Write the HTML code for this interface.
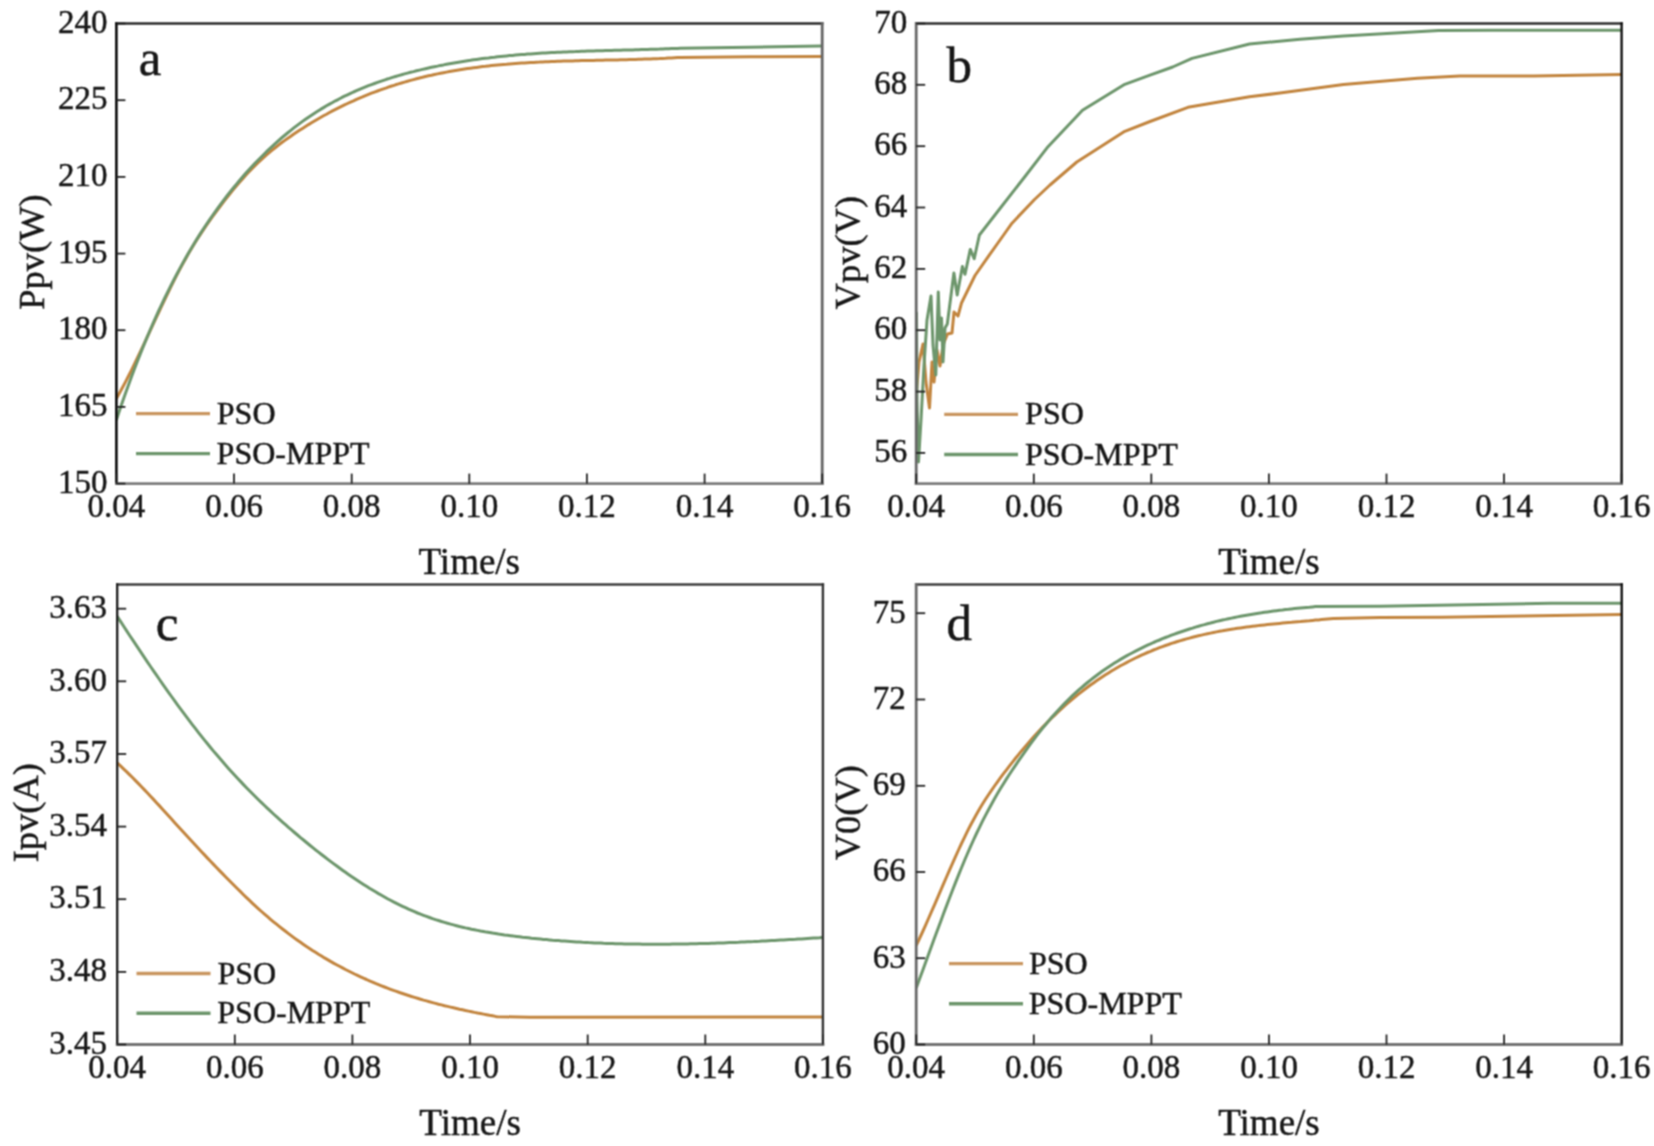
<!DOCTYPE html>
<html><head><meta charset="utf-8"><style>html,body{margin:0;padding:0;background:#fff;}svg{display:block}</style></head><body>
<svg width="1654" height="1146" viewBox="0 0 1654 1146" font-family="'Liberation Serif', serif" fill="#161616" stroke="#161616" stroke-width="0.45">
<defs><filter id="soft" x="0" y="0" width="1654" height="1146" filterUnits="userSpaceOnUse" color-interpolation-filters="sRGB"><feConvolveMatrix order="3" kernelMatrix="1 2 1 2 4 2 1 2 1" edgeMode="duplicate"/></filter></defs>
<g filter="url(#soft)">
<rect width="1654" height="1146" fill="#fff" stroke="none"/>
<clipPath id="cla"><rect x="116.4" y="23.5" width="705.8" height="460.1"/></clipPath>
<g clip-path="url(#cla)" fill="none" stroke-width="3.0" stroke-linejoin="round" stroke-linecap="round">
<path d="M116.5,398.3 L119.5,393.0 L122.5,387.5 L125.5,381.9 L128.5,376.0 L131.5,370.1 L134.5,364.0 L137.5,357.7 L140.5,351.4 L143.5,345.1 L146.5,338.6 L149.5,332.2 L152.5,325.7 L155.5,319.2 L158.5,312.8 L161.5,306.4 L164.5,300.0 L167.5,293.8 L170.5,287.6 L173.5,281.6 L176.5,275.6 L179.5,269.9 L182.5,264.3 L185.5,258.9 L188.5,253.6 L191.5,248.6 L194.5,243.6 L197.5,238.8 L200.5,234.1 L203.5,229.6 L206.5,225.2 L209.5,220.8 L212.5,216.6 L215.5,212.5 L218.5,208.5 L221.5,204.5 L224.5,200.6 L227.5,196.8 L230.5,193.0 L233.5,189.4 L236.5,185.8 L239.5,182.3 L242.5,178.9 L245.5,175.5 L248.5,172.3 L251.5,169.1 L254.5,166.1 L257.5,163.1 L260.5,160.3 L263.5,157.6 L266.5,154.9 L269.5,152.3 L272.5,149.9 L275.5,147.5 L278.5,145.1 L281.5,142.8 L284.5,140.6 L287.5,138.5 L290.5,136.4 L293.5,134.3 L296.5,132.3 L299.5,130.3 L302.5,128.4 L305.5,126.5 L308.5,124.6 L311.5,122.8 L314.5,121.0 L317.5,119.2 L320.5,117.5 L323.5,115.8 L326.5,114.2 L329.5,112.5 L332.5,110.9 L335.5,109.4 L338.5,107.9 L341.5,106.4 L344.5,104.9 L347.5,103.5 L350.5,102.1 L353.5,100.8 L356.5,99.4 L359.5,98.1 L362.5,96.9 L365.5,95.6 L368.5,94.4 L371.5,93.2 L374.5,92.1 L377.5,91.0 L380.5,89.9 L383.5,88.8 L386.5,87.8 L389.5,86.7 L392.5,85.8 L395.5,84.8 L398.5,83.9 L401.5,83.0 L404.5,82.1 L407.5,81.2 L410.5,80.4 L413.5,79.6 L416.5,78.8 L419.5,78.0 L422.5,77.3 L425.5,76.5 L428.5,75.8 L431.5,75.2 L434.5,74.5 L437.5,73.9 L440.5,73.3 L443.5,72.7 L446.5,72.1 L449.5,71.5 L452.5,71.0 L455.5,70.5 L458.5,70.0 L461.5,69.5 L464.5,69.0 L467.5,68.6 L470.5,68.2 L473.5,67.8 L476.5,67.4 L479.5,67.0 L482.5,66.6 L485.5,66.3 L488.5,65.9 L491.5,65.6 L494.5,65.3 L497.5,65.0 L500.5,64.7 L503.5,64.4 L506.5,64.2 L509.5,63.9 L512.5,63.7 L515.5,63.5 L518.5,63.3 L521.5,63.1 L524.5,62.9 L527.5,62.7 L530.5,62.5 L533.5,62.4 L536.5,62.2 L539.5,62.1 L542.5,61.9 L545.5,61.8 L548.5,61.7 L551.5,61.5 L554.5,61.4 L557.5,61.3 L560.5,61.2 L563.5,61.1 L566.5,61.0 L569.5,61.0 L572.5,60.9 L575.5,60.8 L578.5,60.7 L581.5,60.6 L584.5,60.6 L587.5,60.5 L590.5,60.4 L593.5,60.4 L596.5,60.3 L599.5,60.3 L602.5,60.2 L605.5,60.1 L608.5,60.1 L611.5,60.0 L614.5,59.9 L617.5,59.9 L620.5,59.8 L623.5,59.7 L626.5,59.7 L629.5,59.6 L632.5,59.5 L635.5,59.4 L638.5,59.3 L641.5,59.2 L644.5,59.1 L647.5,59.0 L650.5,58.9 L653.5,58.8 L656.5,58.7 L659.5,58.6 L662.5,58.4 L665.5,58.3 L668.5,58.1 L671.5,58.0 L674.5,57.8 L677.5,57.6 L680.0,57.5 L750.0,56.7 L821.0,56.5" stroke="#c2853f"/>
<path d="M116.5,419.5 L119.5,410.5 L122.5,401.8 L125.5,393.2 L128.5,384.9 L131.5,376.7 L134.5,368.8 L137.5,361.0 L140.5,353.4 L143.5,345.9 L146.5,338.6 L149.5,331.5 L152.5,324.6 L155.5,317.8 L158.5,311.2 L161.5,304.8 L164.5,298.4 L167.5,292.3 L170.5,286.3 L173.5,280.4 L176.5,274.7 L179.5,269.1 L182.5,263.6 L185.5,258.3 L188.5,253.0 L191.5,248.0 L194.5,243.0 L197.5,238.1 L200.5,233.4 L203.5,228.8 L206.5,224.2 L209.5,219.8 L212.5,215.5 L215.5,211.3 L218.5,207.1 L221.5,203.1 L224.5,199.1 L227.5,195.2 L230.5,191.4 L233.5,187.7 L236.5,184.1 L239.5,180.5 L242.5,177.1 L245.5,173.6 L248.5,170.3 L251.5,167.0 L254.5,163.8 L257.5,160.7 L260.5,157.7 L263.5,154.7 L266.5,151.7 L269.5,148.9 L272.5,146.1 L275.5,143.3 L278.5,140.6 L281.5,138.0 L284.5,135.5 L287.5,133.0 L290.5,130.6 L293.5,128.2 L296.5,125.9 L299.5,123.6 L302.5,121.4 L305.5,119.3 L308.5,117.2 L311.5,115.2 L314.5,113.2 L317.5,111.3 L320.5,109.4 L323.5,107.6 L326.5,105.8 L329.5,104.1 L332.5,102.5 L335.5,100.8 L338.5,99.3 L341.5,97.7 L344.5,96.2 L347.5,94.8 L350.5,93.4 L353.5,92.0 L356.5,90.7 L359.5,89.4 L362.5,88.1 L365.5,86.9 L368.5,85.7 L371.5,84.6 L374.5,83.5 L377.5,82.4 L380.5,81.3 L383.5,80.3 L386.5,79.3 L389.5,78.4 L392.5,77.4 L395.5,76.5 L398.5,75.6 L401.5,74.8 L404.5,73.9 L407.5,73.1 L410.5,72.3 L413.5,71.6 L416.5,70.8 L419.5,70.1 L422.5,69.4 L425.5,68.7 L428.5,68.0 L431.5,67.3 L434.5,66.7 L437.5,66.1 L440.5,65.4 L443.5,64.9 L446.5,64.3 L449.5,63.7 L452.5,63.2 L455.5,62.7 L458.5,62.2 L461.5,61.7 L464.5,61.2 L467.5,60.7 L470.5,60.3 L473.5,59.8 L476.5,59.4 L479.5,59.0 L482.5,58.6 L485.5,58.2 L488.5,57.9 L491.5,57.5 L494.5,57.2 L497.5,56.8 L500.5,56.5 L503.5,56.2 L506.5,55.9 L509.5,55.6 L512.5,55.4 L515.5,55.1 L518.5,54.8 L521.5,54.6 L524.5,54.4 L527.5,54.1 L530.5,53.9 L533.5,53.7 L536.5,53.5 L539.5,53.3 L542.5,53.1 L545.5,53.0 L548.5,52.8 L551.5,52.6 L554.5,52.5 L557.5,52.3 L560.5,52.2 L563.5,52.0 L566.5,51.9 L569.5,51.8 L572.5,51.7 L575.5,51.6 L578.5,51.4 L581.5,51.3 L584.5,51.2 L587.5,51.1 L590.5,51.0 L593.5,50.9 L596.5,50.8 L599.5,50.8 L602.5,50.7 L605.5,50.6 L608.5,50.5 L611.5,50.4 L614.5,50.3 L617.5,50.3 L620.5,50.2 L623.5,50.1 L626.5,50.0 L629.5,49.9 L632.5,49.9 L635.5,49.8 L638.5,49.7 L641.5,49.6 L644.5,49.5 L647.5,49.4 L650.5,49.3 L653.5,49.2 L656.5,49.2 L659.5,49.1 L662.5,48.9 L665.5,48.8 L668.5,48.7 L671.5,48.6 L674.5,48.5 L677.5,48.4 L680.0,48.3 L750.0,47.2 L821.0,46.1" stroke="#6d966c"/>
</g>
<line x1="116.4" y1="23.5" x2="822.2" y2="23.5" stroke="#2a2a2a" stroke-width="2.4" stroke-linecap="square"/>
<line x1="116.4" y1="23.5" x2="116.4" y2="483.6" stroke="#0a0a0a" stroke-width="2.6" stroke-linecap="square"/>
<line x1="822.2" y1="23.5" x2="822.2" y2="483.6" stroke="#646464" stroke-width="2.8" stroke-linecap="square"/>
<line x1="116.4" y1="483.6" x2="822.2" y2="483.6" stroke="#7c7c7c" stroke-width="2.8" stroke-linecap="square"/>
<line x1="116.4" y1="483.6" x2="125.4" y2="483.6" stroke="#222" stroke-width="1.8"/>
<text x="107.4" y="492.8" font-size="33" text-anchor="end">150</text>
<line x1="116.4" y1="406.9" x2="125.4" y2="406.9" stroke="#222" stroke-width="1.8"/>
<text x="107.4" y="416.1" font-size="33" text-anchor="end">165</text>
<line x1="116.4" y1="330.2" x2="125.4" y2="330.2" stroke="#222" stroke-width="1.8"/>
<text x="107.4" y="339.4" font-size="33" text-anchor="end">180</text>
<line x1="116.4" y1="253.6" x2="125.4" y2="253.6" stroke="#222" stroke-width="1.8"/>
<text x="107.4" y="262.8" font-size="33" text-anchor="end">195</text>
<line x1="116.4" y1="176.9" x2="125.4" y2="176.9" stroke="#222" stroke-width="1.8"/>
<text x="107.4" y="186.1" font-size="33" text-anchor="end">210</text>
<line x1="116.4" y1="100.2" x2="125.4" y2="100.2" stroke="#222" stroke-width="1.8"/>
<text x="107.4" y="109.4" font-size="33" text-anchor="end">225</text>
<line x1="116.4" y1="23.5" x2="125.4" y2="23.5" stroke="#222" stroke-width="1.8"/>
<text x="107.4" y="32.7" font-size="33" text-anchor="end">240</text>
<line x1="116.4" y1="483.6" x2="116.4" y2="473.6" stroke="#222" stroke-width="1.8"/>
<text x="116.4" y="516.9" font-size="33" text-anchor="middle">0.04</text>
<line x1="234.0" y1="483.6" x2="234.0" y2="473.6" stroke="#222" stroke-width="1.8"/>
<text x="234.0" y="516.9" font-size="33" text-anchor="middle">0.06</text>
<line x1="351.7" y1="483.6" x2="351.7" y2="473.6" stroke="#222" stroke-width="1.8"/>
<text x="351.7" y="516.9" font-size="33" text-anchor="middle">0.08</text>
<line x1="469.3" y1="483.6" x2="469.3" y2="473.6" stroke="#222" stroke-width="1.8"/>
<text x="469.3" y="516.9" font-size="33" text-anchor="middle">0.10</text>
<line x1="586.9" y1="483.6" x2="586.9" y2="473.6" stroke="#222" stroke-width="1.8"/>
<text x="586.9" y="516.9" font-size="33" text-anchor="middle">0.12</text>
<line x1="704.6" y1="483.6" x2="704.6" y2="473.6" stroke="#222" stroke-width="1.8"/>
<text x="704.6" y="516.9" font-size="33" text-anchor="middle">0.14</text>
<line x1="822.2" y1="483.6" x2="822.2" y2="473.6" stroke="#222" stroke-width="1.8"/>
<text x="822.2" y="516.9" font-size="33" text-anchor="middle">0.16</text>
<text x="469.3" y="573.6" font-size="37" text-anchor="middle">Time/s</text>
<text transform="translate(44.0,252.0) rotate(-90)" font-size="36.5" text-anchor="middle">Ppv(W)</text>
<text x="138.8" y="74.6" font-size="51">a</text>
<line x1="136.0" y1="413.6" x2="210.0" y2="413.6" stroke="#c99660" stroke-width="3.4"/>
<line x1="136.0" y1="453.6" x2="210.0" y2="453.6" stroke="#6d966c" stroke-width="3.4"/>
<text x="216.8" y="423.6" font-size="32">PSO</text>
<text x="216.6" y="463.6" font-size="32">PSO-MPPT</text>
<clipPath id="clb"><rect x="916.2" y="23.5" width="705.4" height="460.1"/></clipPath>
<g clip-path="url(#clb)" fill="none" stroke-width="3.0" stroke-linejoin="round" stroke-linecap="round">
<path d="M916.5,392.0 L919.0,362.0 L923.0,344.0 L926.0,382.0 L929.5,408.0 L932.0,362.0 L934.0,382.0 L937.0,350.0 L940.0,366.0 L943.0,345.0 L947.5,334.0 L952.0,333.0 L954.0,312.0 L958.0,316.0 L961.5,303.0 L975.0,275.5 L990.5,253.3 L1003.6,235.0 L1012.0,223.2 L1034.5,199.5 L1050.0,185.0 L1076.8,162.0 L1124.8,131.3 L1150.0,121.5 L1188.0,107.3 L1249.5,96.8 L1280.0,93.0 L1343.5,84.5 L1417.5,78.2 L1459.9,76.1 L1534.0,76.1 L1621.0,74.6" stroke="#c2853f"/>
<path d="M916.5,313.0 L917.0,400.0 L918.5,462.0 L921.0,420.0 L924.0,365.0 L927.0,320.0 L931.0,296.0 L933.0,345.0 L935.8,375.0 L938.3,292.0 L940.0,340.0 L941.5,318.0 L943.0,362.0 L945.0,328.0 L947.3,324.0 L953.9,273.0 L957.2,295.0 L962.4,266.5 L965.0,274.3 L970.3,249.4 L974.2,258.6 L979.4,235.0 L1000.0,208.5 L1025.0,176.5 L1048.0,146.7 L1082.5,110.2 L1124.8,84.3 L1150.0,75.2 L1172.7,67.0 L1192.0,58.4 L1249.5,44.0 L1300.0,39.2 L1343.5,35.9 L1438.7,30.6 L1491.6,30.2 L1621.0,30.2" stroke="#6d966c"/>
</g>
<line x1="916.2" y1="23.5" x2="1621.6" y2="23.5" stroke="#2e2e2e" stroke-width="2.4" stroke-linecap="square"/>
<line x1="916.2" y1="23.5" x2="916.2" y2="483.6" stroke="#686868" stroke-width="2.8" stroke-linecap="square"/>
<line x1="1621.6" y1="23.5" x2="1621.6" y2="483.6" stroke="#111111" stroke-width="2.4" stroke-linecap="square"/>
<line x1="916.2" y1="483.6" x2="1621.6" y2="483.6" stroke="#7c7c7c" stroke-width="2.8" stroke-linecap="square"/>
<line x1="916.2" y1="452.9" x2="925.2" y2="452.9" stroke="#222" stroke-width="1.8"/>
<text x="907.2" y="462.1" font-size="33" text-anchor="end">56</text>
<line x1="916.2" y1="391.6" x2="925.2" y2="391.6" stroke="#222" stroke-width="1.8"/>
<text x="907.2" y="400.8" font-size="33" text-anchor="end">58</text>
<line x1="916.2" y1="330.2" x2="925.2" y2="330.2" stroke="#222" stroke-width="1.8"/>
<text x="907.2" y="339.4" font-size="33" text-anchor="end">60</text>
<line x1="916.2" y1="268.9" x2="925.2" y2="268.9" stroke="#222" stroke-width="1.8"/>
<text x="907.2" y="278.1" font-size="33" text-anchor="end">62</text>
<line x1="916.2" y1="207.5" x2="925.2" y2="207.5" stroke="#222" stroke-width="1.8"/>
<text x="907.2" y="216.7" font-size="33" text-anchor="end">64</text>
<line x1="916.2" y1="146.2" x2="925.2" y2="146.2" stroke="#222" stroke-width="1.8"/>
<text x="907.2" y="155.4" font-size="33" text-anchor="end">66</text>
<line x1="916.2" y1="84.8" x2="925.2" y2="84.8" stroke="#222" stroke-width="1.8"/>
<text x="907.2" y="94.0" font-size="33" text-anchor="end">68</text>
<line x1="916.2" y1="23.5" x2="925.2" y2="23.5" stroke="#222" stroke-width="1.8"/>
<text x="907.2" y="32.7" font-size="33" text-anchor="end">70</text>
<line x1="916.2" y1="483.6" x2="916.2" y2="473.6" stroke="#222" stroke-width="1.8"/>
<text x="916.2" y="516.9" font-size="33" text-anchor="middle">0.04</text>
<line x1="1033.8" y1="483.6" x2="1033.8" y2="473.6" stroke="#222" stroke-width="1.8"/>
<text x="1033.8" y="516.9" font-size="33" text-anchor="middle">0.06</text>
<line x1="1151.3" y1="483.6" x2="1151.3" y2="473.6" stroke="#222" stroke-width="1.8"/>
<text x="1151.3" y="516.9" font-size="33" text-anchor="middle">0.08</text>
<line x1="1268.9" y1="483.6" x2="1268.9" y2="473.6" stroke="#222" stroke-width="1.8"/>
<text x="1268.9" y="516.9" font-size="33" text-anchor="middle">0.10</text>
<line x1="1386.5" y1="483.6" x2="1386.5" y2="473.6" stroke="#222" stroke-width="1.8"/>
<text x="1386.5" y="516.9" font-size="33" text-anchor="middle">0.12</text>
<line x1="1504.0" y1="483.6" x2="1504.0" y2="473.6" stroke="#222" stroke-width="1.8"/>
<text x="1504.0" y="516.9" font-size="33" text-anchor="middle">0.14</text>
<line x1="1621.6" y1="483.6" x2="1621.6" y2="473.6" stroke="#222" stroke-width="1.8"/>
<text x="1621.6" y="516.9" font-size="33" text-anchor="middle">0.16</text>
<text x="1268.9" y="573.6" font-size="37" text-anchor="middle">Time/s</text>
<text transform="translate(860.0,252.7) rotate(-90)" font-size="36.5" text-anchor="middle">Vpv(V)</text>
<text x="946.5" y="81.6" font-size="51">b</text>
<line x1="944.2" y1="414.4" x2="1018.0" y2="414.4" stroke="#c99660" stroke-width="3.4"/>
<line x1="944.2" y1="454.5" x2="1018.0" y2="454.5" stroke="#6d966c" stroke-width="3.4"/>
<text x="1025.1" y="424.4" font-size="32">PSO</text>
<text x="1024.9" y="464.5" font-size="32">PSO-MPPT</text>
<clipPath id="clc"><rect x="117.2" y="584.5" width="705.7" height="460.0"/></clipPath>
<g clip-path="url(#clc)" fill="none" stroke-width="3.0" stroke-linejoin="round" stroke-linecap="round">
<path d="M117.5,763.2 L120.5,765.9 L123.5,768.8 L126.5,771.6 L129.5,774.6 L132.5,777.5 L135.5,780.6 L138.5,783.6 L141.5,786.7 L144.5,789.9 L147.5,793.0 L150.5,796.2 L153.5,799.4 L156.5,802.7 L159.5,805.9 L162.5,809.2 L165.5,812.5 L168.5,815.8 L171.5,819.1 L174.5,822.4 L177.5,825.7 L180.5,829.0 L183.5,832.3 L186.5,835.6 L189.5,838.8 L192.5,842.1 L195.5,845.3 L198.5,848.5 L201.5,851.7 L204.5,854.9 L207.5,858.1 L210.5,861.2 L213.5,864.4 L216.5,867.5 L219.5,870.6 L222.5,873.6 L225.5,876.7 L228.5,879.8 L231.5,882.8 L234.5,885.8 L237.5,888.8 L240.5,891.7 L243.5,894.7 L246.5,897.6 L249.5,900.4 L252.5,903.3 L255.5,906.1 L258.5,908.8 L261.5,911.5 L264.5,914.1 L267.5,916.7 L270.5,919.3 L273.5,921.8 L276.5,924.2 L279.5,926.6 L282.5,929.0 L285.5,931.3 L288.5,933.6 L291.5,935.9 L294.5,938.1 L297.5,940.2 L300.5,942.3 L303.5,944.4 L306.5,946.5 L309.5,948.4 L312.5,950.4 L315.5,952.3 L318.5,954.2 L321.5,956.0 L324.5,957.9 L327.5,959.6 L330.5,961.4 L333.5,963.1 L336.5,964.7 L339.5,966.3 L342.5,967.9 L345.5,969.5 L348.5,971.0 L351.5,972.5 L354.5,974.0 L357.5,975.4 L360.5,976.8 L363.5,978.2 L366.5,979.5 L369.5,980.9 L372.5,982.1 L375.5,983.4 L378.5,984.6 L381.5,985.8 L384.5,987.0 L387.5,988.2 L390.5,989.3 L393.5,990.4 L396.5,991.4 L399.5,992.5 L402.5,993.5 L405.5,994.5 L408.5,995.5 L411.5,996.5 L414.5,997.4 L417.5,998.3 L420.5,999.2 L423.5,1000.1 L426.5,1000.9 L429.5,1001.8 L432.5,1002.6 L435.5,1003.4 L438.5,1004.2 L441.5,1004.9 L444.5,1005.7 L447.5,1006.4 L450.5,1007.1 L453.5,1007.8 L456.5,1008.5 L459.5,1009.2 L462.5,1009.8 L465.5,1010.5 L468.5,1011.1 L471.5,1011.7 L474.5,1012.4 L477.5,1013.0 L480.5,1013.5 L483.5,1014.1 L486.5,1014.7 L489.5,1015.3 L492.5,1015.8 L495.5,1016.4 L497.3,1016.7 L530.0,1017.2 L822.0,1017.0" stroke="#c2853f"/>
<path d="M117.5,616.8 L120.5,621.4 L123.5,626.0 L126.5,630.6 L129.5,635.2 L132.5,639.7 L135.5,644.2 L138.5,648.7 L141.5,653.2 L144.5,657.7 L147.5,662.1 L150.5,666.5 L153.5,670.9 L156.5,675.2 L159.5,679.5 L162.5,683.8 L165.5,688.1 L168.5,692.3 L171.5,696.5 L174.5,700.7 L177.5,704.8 L180.5,708.9 L183.5,712.9 L186.5,716.9 L189.5,720.9 L192.5,724.8 L195.5,728.7 L198.5,732.6 L201.5,736.4 L204.5,740.1 L207.5,743.8 L210.5,747.5 L213.5,751.1 L216.5,754.6 L219.5,758.1 L222.5,761.6 L225.5,765.0 L228.5,768.4 L231.5,771.7 L234.5,775.0 L237.5,778.2 L240.5,781.4 L243.5,784.6 L246.5,787.7 L249.5,790.8 L252.5,793.8 L255.5,796.8 L258.5,799.8 L261.5,802.7 L264.5,805.5 L267.5,808.4 L270.5,811.2 L273.5,814.0 L276.5,816.7 L279.5,819.4 L282.5,822.1 L285.5,824.7 L288.5,827.4 L291.5,829.9 L294.5,832.5 L297.5,835.0 L300.5,837.6 L303.5,840.0 L306.5,842.5 L309.5,845.0 L312.5,847.4 L315.5,849.8 L318.5,852.1 L321.5,854.5 L324.5,856.8 L327.5,859.1 L330.5,861.4 L333.5,863.6 L336.5,865.8 L339.5,868.0 L342.5,870.2 L345.5,872.3 L348.5,874.4 L351.5,876.5 L354.5,878.5 L357.5,880.5 L360.5,882.5 L363.5,884.4 L366.5,886.3 L369.5,888.2 L372.5,890.0 L375.5,891.8 L378.5,893.6 L381.5,895.3 L384.5,897.0 L387.5,898.7 L390.5,900.3 L393.5,901.9 L396.5,903.4 L399.5,904.9 L402.5,906.3 L405.5,907.7 L408.5,909.1 L411.5,910.4 L414.5,911.7 L417.5,913.0 L420.5,914.2 L423.5,915.3 L426.5,916.4 L429.5,917.5 L432.5,918.6 L435.5,919.6 L438.5,920.5 L441.5,921.5 L444.5,922.4 L447.5,923.3 L450.5,924.1 L453.5,924.9 L456.5,925.7 L459.5,926.5 L462.5,927.2 L465.5,927.9 L468.5,928.5 L471.5,929.2 L474.5,929.8 L477.5,930.4 L480.5,931.0 L483.5,931.5 L486.5,932.1 L489.5,932.6 L492.5,933.1 L495.5,933.5 L498.5,934.0 L501.5,934.4 L504.5,934.9 L507.5,935.3 L510.5,935.7 L513.5,936.1 L516.5,936.4 L519.5,936.8 L522.5,937.2 L525.5,937.5 L528.5,937.8 L531.5,938.2 L534.5,938.5 L537.5,938.8 L540.5,939.1 L543.5,939.4 L546.5,939.6 L549.5,939.9 L552.5,940.2 L555.5,940.4 L558.5,940.6 L561.5,940.9 L564.5,941.1 L567.5,941.3 L570.5,941.5 L573.5,941.7 L576.5,941.9 L579.5,942.1 L582.5,942.3 L585.5,942.4 L588.5,942.6 L591.5,942.7 L594.5,942.9 L597.5,943.0 L600.5,943.1 L603.5,943.3 L606.5,943.4 L609.5,943.5 L612.5,943.6 L615.5,943.7 L618.5,943.7 L621.5,943.8 L624.5,943.9 L627.5,944.0 L630.5,944.0 L633.5,944.1 L636.5,944.1 L639.5,944.1 L642.5,944.2 L645.5,944.2 L648.5,944.2 L651.5,944.2 L654.5,944.2 L657.5,944.2 L660.5,944.2 L663.5,944.2 L666.5,944.2 L669.5,944.2 L672.5,944.1 L675.5,944.1 L678.5,944.0 L681.5,944.0 L684.5,944.0 L687.5,943.9 L690.5,943.8 L693.5,943.8 L696.5,943.7 L699.5,943.6 L702.5,943.5 L705.5,943.5 L708.5,943.4 L711.5,943.3 L714.5,943.2 L717.5,943.1 L720.5,943.0 L723.5,942.9 L726.5,942.7 L729.5,942.6 L732.5,942.5 L735.5,942.4 L738.5,942.3 L741.5,942.1 L744.5,942.0 L747.5,941.8 L750.5,941.7 L753.5,941.6 L756.5,941.4 L759.5,941.3 L762.5,941.1 L765.5,941.0 L768.5,940.8 L771.5,940.6 L774.5,940.5 L777.5,940.3 L780.5,940.1 L783.5,940.0 L786.5,939.8 L789.5,939.6 L792.5,939.4 L795.5,939.3 L798.5,939.1 L801.5,938.9 L804.5,938.7 L807.5,938.5 L810.5,938.3 L813.5,938.1 L816.5,937.9 L819.5,937.8 L822.0,937.6" stroke="#6d966c"/>
</g>
<line x1="117.2" y1="584.5" x2="822.9" y2="584.5" stroke="#3d3d3d" stroke-width="2.4" stroke-linecap="square"/>
<line x1="117.2" y1="584.5" x2="117.2" y2="1044.5" stroke="#222222" stroke-width="2.4" stroke-linecap="square"/>
<line x1="822.9" y1="584.5" x2="822.9" y2="1044.5" stroke="#333333" stroke-width="2.4" stroke-linecap="square"/>
<line x1="117.2" y1="1044.5" x2="822.9" y2="1044.5" stroke="#747474" stroke-width="2.8" stroke-linecap="square"/>
<line x1="117.2" y1="1044.5" x2="126.2" y2="1044.5" stroke="#222" stroke-width="1.8"/>
<text x="107.0" y="1053.7" font-size="33" text-anchor="end">3.45</text>
<line x1="117.2" y1="971.9" x2="126.2" y2="971.9" stroke="#222" stroke-width="1.8"/>
<text x="107.0" y="981.1" font-size="33" text-anchor="end">3.48</text>
<line x1="117.2" y1="899.2" x2="126.2" y2="899.2" stroke="#222" stroke-width="1.8"/>
<text x="107.0" y="908.4" font-size="33" text-anchor="end">3.51</text>
<line x1="117.2" y1="826.6" x2="126.2" y2="826.6" stroke="#222" stroke-width="1.8"/>
<text x="107.0" y="835.8" font-size="33" text-anchor="end">3.54</text>
<line x1="117.2" y1="754.0" x2="126.2" y2="754.0" stroke="#222" stroke-width="1.8"/>
<text x="107.0" y="763.2" font-size="33" text-anchor="end">3.57</text>
<line x1="117.2" y1="681.3" x2="126.2" y2="681.3" stroke="#222" stroke-width="1.8"/>
<text x="107.0" y="690.5" font-size="33" text-anchor="end">3.60</text>
<line x1="117.2" y1="608.7" x2="126.2" y2="608.7" stroke="#222" stroke-width="1.8"/>
<text x="107.0" y="617.9" font-size="33" text-anchor="end">3.63</text>
<line x1="117.2" y1="1044.5" x2="117.2" y2="1034.5" stroke="#222" stroke-width="1.8"/>
<text x="117.2" y="1077.8" font-size="33" text-anchor="middle">0.04</text>
<line x1="234.8" y1="1044.5" x2="234.8" y2="1034.5" stroke="#222" stroke-width="1.8"/>
<text x="234.8" y="1077.8" font-size="33" text-anchor="middle">0.06</text>
<line x1="352.4" y1="1044.5" x2="352.4" y2="1034.5" stroke="#222" stroke-width="1.8"/>
<text x="352.4" y="1077.8" font-size="33" text-anchor="middle">0.08</text>
<line x1="470.0" y1="1044.5" x2="470.0" y2="1034.5" stroke="#222" stroke-width="1.8"/>
<text x="470.0" y="1077.8" font-size="33" text-anchor="middle">0.10</text>
<line x1="587.7" y1="1044.5" x2="587.7" y2="1034.5" stroke="#222" stroke-width="1.8"/>
<text x="587.7" y="1077.8" font-size="33" text-anchor="middle">0.12</text>
<line x1="705.3" y1="1044.5" x2="705.3" y2="1034.5" stroke="#222" stroke-width="1.8"/>
<text x="705.3" y="1077.8" font-size="33" text-anchor="middle">0.14</text>
<line x1="822.9" y1="1044.5" x2="822.9" y2="1034.5" stroke="#222" stroke-width="1.8"/>
<text x="822.9" y="1077.8" font-size="33" text-anchor="middle">0.16</text>
<text x="470.1" y="1134.5" font-size="37" text-anchor="middle">Time/s</text>
<text transform="translate(37.5,812.7) rotate(-90)" font-size="36.5" text-anchor="middle">Ipv(A)</text>
<text x="155.8" y="640.2" font-size="51">c</text>
<line x1="136.5" y1="973.5" x2="210.5" y2="973.5" stroke="#c99660" stroke-width="3.4"/>
<line x1="136.5" y1="1013.2" x2="210.5" y2="1013.2" stroke="#6d966c" stroke-width="3.4"/>
<text x="217.5" y="983.5" font-size="32">PSO</text>
<text x="217.3" y="1023.2" font-size="32">PSO-MPPT</text>
<clipPath id="cld"><rect x="916.2" y="584.5" width="705.5" height="460.0"/></clipPath>
<g clip-path="url(#cld)" fill="none" stroke-width="3.0" stroke-linejoin="round" stroke-linecap="round">
<path d="M916.5,944.9 L919.5,938.5 L922.5,932.0 L925.5,925.3 L928.5,918.5 L931.5,911.7 L934.5,904.8 L937.5,897.8 L940.5,890.8 L943.5,883.9 L946.5,877.0 L949.5,870.1 L952.5,863.3 L955.5,856.6 L958.5,850.0 L961.5,843.5 L964.5,837.3 L967.5,831.2 L970.5,825.3 L973.5,819.7 L976.5,814.3 L979.5,809.1 L982.5,804.1 L985.5,799.3 L988.5,794.7 L991.5,790.3 L994.5,786.0 L997.5,781.8 L1000.5,777.7 L1003.5,773.7 L1006.5,769.8 L1009.5,765.9 L1012.5,762.1 L1015.5,758.3 L1018.5,754.6 L1021.5,750.9 L1024.5,747.4 L1027.5,743.9 L1030.5,740.4 L1033.5,737.0 L1036.5,733.7 L1039.5,730.5 L1042.5,727.3 L1045.5,724.2 L1048.5,721.1 L1051.5,718.2 L1054.5,715.3 L1057.5,712.4 L1060.5,709.6 L1063.5,706.9 L1066.5,704.2 L1069.5,701.6 L1072.5,699.1 L1075.5,696.6 L1078.5,694.2 L1081.5,691.8 L1084.5,689.5 L1087.5,687.2 L1090.5,685.0 L1093.5,682.9 L1096.5,680.8 L1099.5,678.7 L1102.5,676.7 L1105.5,674.8 L1108.5,672.9 L1111.5,671.0 L1114.5,669.3 L1117.5,667.5 L1120.5,665.8 L1123.5,664.2 L1126.5,662.6 L1129.5,661.0 L1132.5,659.5 L1135.5,658.0 L1138.5,656.6 L1141.5,655.2 L1144.5,653.8 L1147.5,652.5 L1150.5,651.3 L1153.5,650.0 L1156.5,648.9 L1159.5,647.7 L1162.5,646.6 L1165.5,645.5 L1168.5,644.5 L1171.5,643.4 L1174.5,642.5 L1177.5,641.5 L1180.5,640.6 L1183.5,639.7 L1186.5,638.9 L1189.5,638.1 L1192.5,637.3 L1195.5,636.5 L1198.5,635.8 L1201.5,635.1 L1204.5,634.4 L1207.5,633.7 L1210.5,633.1 L1213.5,632.5 L1216.5,631.9 L1219.5,631.3 L1222.5,630.8 L1225.5,630.2 L1228.5,629.7 L1231.5,629.2 L1234.5,628.8 L1237.5,628.3 L1240.5,627.9 L1243.5,627.5 L1246.5,627.1 L1249.5,626.7 L1252.5,626.3 L1255.5,625.9 L1258.5,625.6 L1261.5,625.2 L1264.5,624.9 L1267.5,624.6 L1270.5,624.3 L1273.5,624.0 L1276.5,623.7 L1279.5,623.4 L1282.5,623.1 L1285.5,622.8 L1288.5,622.5 L1291.5,622.3 L1294.5,622.0 L1297.5,621.7 L1300.5,621.5 L1303.5,621.2 L1306.5,620.9 L1309.5,620.7 L1312.5,620.4 L1315.5,620.1 L1318.5,619.9 L1321.5,619.6 L1324.5,619.3 L1327.5,619.0 L1330.5,618.7 L1333.5,618.4 L1334.0,618.4 L1380.0,617.6 L1441.6,617.3 L1523.2,616.0 L1621.0,614.4" stroke="#c2853f"/>
<path d="M916.5,987.3 L919.5,979.1 L922.5,970.9 L925.5,962.7 L928.5,954.5 L931.5,946.3 L934.5,938.1 L937.5,930.0 L940.5,921.9 L943.5,913.8 L946.5,905.9 L949.5,898.0 L952.5,890.3 L955.5,882.6 L958.5,875.1 L961.5,867.7 L964.5,860.5 L967.5,853.5 L970.5,846.6 L973.5,840.0 L976.5,833.5 L979.5,827.3 L982.5,821.2 L985.5,815.4 L988.5,809.7 L991.5,804.2 L994.5,798.8 L997.5,793.6 L1000.5,788.6 L1003.5,783.7 L1006.5,778.9 L1009.5,774.3 L1012.5,769.7 L1015.5,765.3 L1018.5,760.9 L1021.5,756.6 L1024.5,752.3 L1027.5,748.1 L1030.5,743.9 L1033.5,739.9 L1036.5,735.9 L1039.5,732.1 L1042.5,728.3 L1045.5,724.7 L1048.5,721.1 L1051.5,717.6 L1054.5,714.2 L1057.5,710.9 L1060.5,707.7 L1063.5,704.6 L1066.5,701.6 L1069.5,698.6 L1072.5,695.7 L1075.5,692.9 L1078.5,690.2 L1081.5,687.6 L1084.5,685.0 L1087.5,682.5 L1090.5,680.1 L1093.5,677.8 L1096.5,675.5 L1099.5,673.2 L1102.5,671.1 L1105.5,669.0 L1108.5,667.0 L1111.5,665.0 L1114.5,663.1 L1117.5,661.2 L1120.5,659.4 L1123.5,657.6 L1126.5,655.9 L1129.5,654.3 L1132.5,652.7 L1135.5,651.1 L1138.5,649.6 L1141.5,648.1 L1144.5,646.6 L1147.5,645.2 L1150.5,643.9 L1153.5,642.5 L1156.5,641.2 L1159.5,640.0 L1162.5,638.7 L1165.5,637.5 L1168.5,636.4 L1171.5,635.2 L1174.5,634.1 L1177.5,633.0 L1180.5,632.0 L1183.5,631.0 L1186.5,630.0 L1189.5,629.0 L1192.5,628.1 L1195.5,627.1 L1198.5,626.3 L1201.5,625.4 L1204.5,624.6 L1207.5,623.7 L1210.5,623.0 L1213.5,622.2 L1216.5,621.4 L1219.5,620.7 L1222.5,620.0 L1225.5,619.4 L1228.5,618.7 L1231.5,618.1 L1234.5,617.5 L1237.5,616.9 L1240.5,616.3 L1243.5,615.7 L1246.5,615.2 L1249.5,614.7 L1252.5,614.2 L1255.5,613.7 L1258.5,613.2 L1261.5,612.8 L1264.5,612.3 L1267.5,611.9 L1270.5,611.5 L1273.5,611.1 L1276.5,610.7 L1279.5,610.3 L1282.5,610.0 L1285.5,609.6 L1288.5,609.3 L1291.5,608.9 L1294.5,608.6 L1297.5,608.3 L1300.5,608.0 L1303.5,607.7 L1306.5,607.4 L1309.5,607.2 L1312.5,606.9 L1315.5,606.6 L1315.8,606.6 L1380.0,606.2 L1453.0,604.9 L1551.0,603.3 L1621.0,603.3" stroke="#6d966c"/>
</g>
<line x1="916.2" y1="584.5" x2="1621.7" y2="584.5" stroke="#3d3d3d" stroke-width="2.4" stroke-linecap="square"/>
<line x1="916.2" y1="584.5" x2="916.2" y2="1044.5" stroke="#686868" stroke-width="2.8" stroke-linecap="square"/>
<line x1="1621.7" y1="584.5" x2="1621.7" y2="1044.5" stroke="#111111" stroke-width="2.4" stroke-linecap="square"/>
<line x1="916.2" y1="1044.5" x2="1621.7" y2="1044.5" stroke="#747474" stroke-width="2.8" stroke-linecap="square"/>
<line x1="916.2" y1="1044.5" x2="925.2" y2="1044.5" stroke="#222" stroke-width="1.8"/>
<text x="905.8" y="1053.7" font-size="33" text-anchor="end">60</text>
<line x1="916.2" y1="958.2" x2="925.2" y2="958.2" stroke="#222" stroke-width="1.8"/>
<text x="905.8" y="967.5" font-size="33" text-anchor="end">63</text>
<line x1="916.2" y1="872.0" x2="925.2" y2="872.0" stroke="#222" stroke-width="1.8"/>
<text x="905.8" y="881.2" font-size="33" text-anchor="end">66</text>
<line x1="916.2" y1="785.8" x2="925.2" y2="785.8" stroke="#222" stroke-width="1.8"/>
<text x="905.8" y="795.0" font-size="33" text-anchor="end">69</text>
<line x1="916.2" y1="699.5" x2="925.2" y2="699.5" stroke="#222" stroke-width="1.8"/>
<text x="905.8" y="708.7" font-size="33" text-anchor="end">72</text>
<line x1="916.2" y1="613.2" x2="925.2" y2="613.2" stroke="#222" stroke-width="1.8"/>
<text x="905.8" y="622.5" font-size="33" text-anchor="end">75</text>
<line x1="916.2" y1="1044.5" x2="916.2" y2="1034.5" stroke="#222" stroke-width="1.8"/>
<text x="916.2" y="1077.8" font-size="33" text-anchor="middle">0.04</text>
<line x1="1033.8" y1="1044.5" x2="1033.8" y2="1034.5" stroke="#222" stroke-width="1.8"/>
<text x="1033.8" y="1077.8" font-size="33" text-anchor="middle">0.06</text>
<line x1="1151.4" y1="1044.5" x2="1151.4" y2="1034.5" stroke="#222" stroke-width="1.8"/>
<text x="1151.4" y="1077.8" font-size="33" text-anchor="middle">0.08</text>
<line x1="1269.0" y1="1044.5" x2="1269.0" y2="1034.5" stroke="#222" stroke-width="1.8"/>
<text x="1269.0" y="1077.8" font-size="33" text-anchor="middle">0.10</text>
<line x1="1386.5" y1="1044.5" x2="1386.5" y2="1034.5" stroke="#222" stroke-width="1.8"/>
<text x="1386.5" y="1077.8" font-size="33" text-anchor="middle">0.12</text>
<line x1="1504.1" y1="1044.5" x2="1504.1" y2="1034.5" stroke="#222" stroke-width="1.8"/>
<text x="1504.1" y="1077.8" font-size="33" text-anchor="middle">0.14</text>
<line x1="1621.7" y1="1044.5" x2="1621.7" y2="1034.5" stroke="#222" stroke-width="1.8"/>
<text x="1621.7" y="1077.8" font-size="33" text-anchor="middle">0.16</text>
<text x="1269.0" y="1134.5" font-size="37" text-anchor="middle">Time/s</text>
<text transform="translate(859.7,812.7) rotate(-90)" font-size="36.5" text-anchor="middle">V0(V)</text>
<text x="946.6" y="640.0" font-size="51">d</text>
<line x1="949.0" y1="963.6" x2="1023.0" y2="963.6" stroke="#c99660" stroke-width="3.4"/>
<line x1="949.0" y1="1003.7" x2="1023.0" y2="1003.7" stroke="#6d966c" stroke-width="3.4"/>
<text x="1029.0" y="973.6" font-size="32">PSO</text>
<text x="1028.8" y="1013.7" font-size="32">PSO-MPPT</text>
</g></svg></body></html>
